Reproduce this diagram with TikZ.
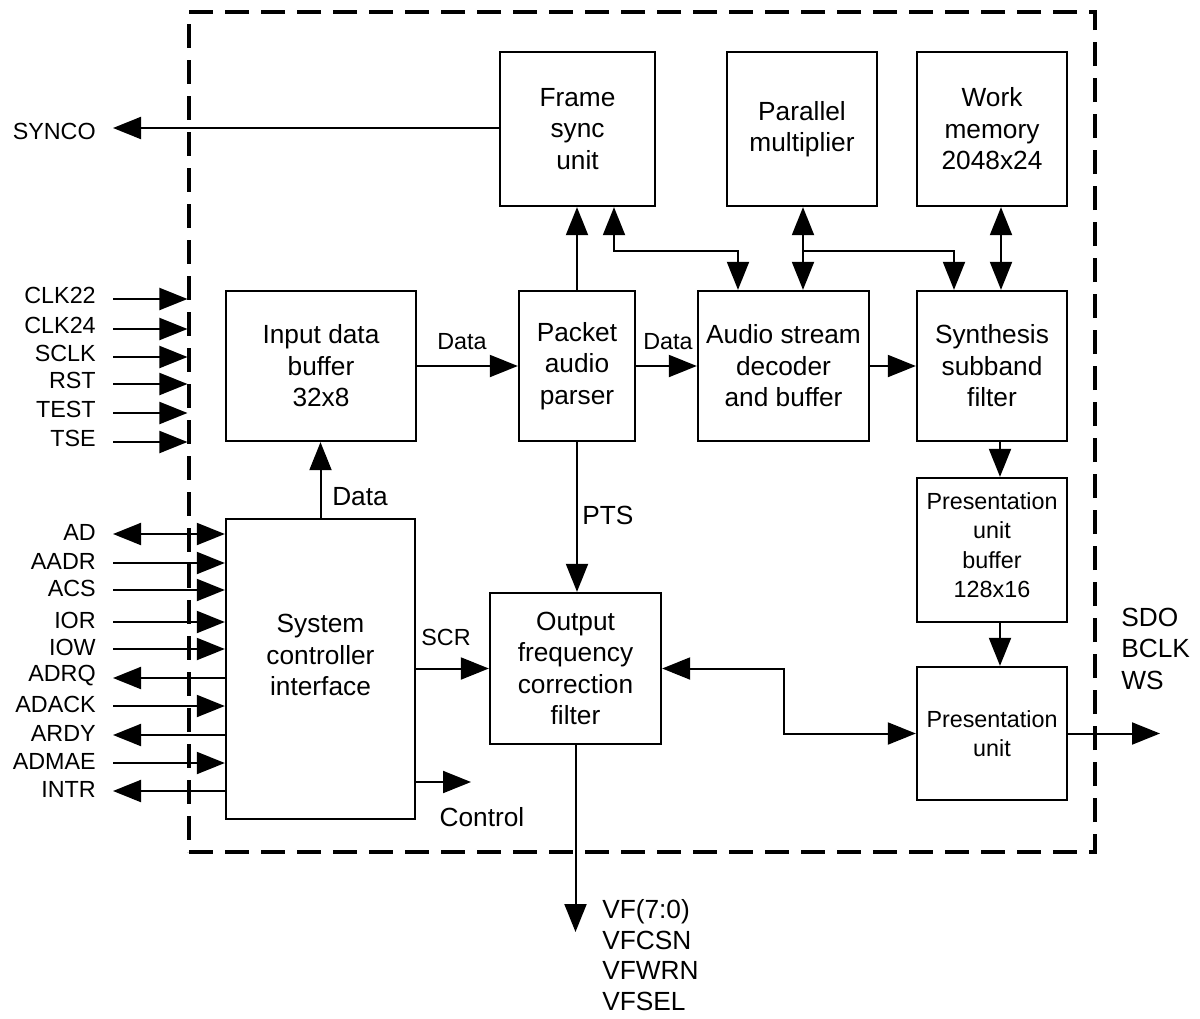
\documentclass[tikz,border=0pt]{standalone}
\usepackage{fontspec}
\setmainfont{Liberation Sans}
\usetikzlibrary{arrows.meta}
\begin{document}
\begin{tikzpicture}[x=0.75pt,y=-0.75pt,
  big/.style={font=\fontsize{19.7pt}{23.6pt}\selectfont},
  small/.style={font=\fontsize{17.5pt}{22pt}\selectfont},
  blk/.style={draw, line width=1.75pt, align=center, inner sep=0pt, big},
  wire/.style={line width=1.5pt},
  tip/.style={wire, -{Triangle[length=21pt,width=16.5pt]}},
  both/.style={wire, {Triangle[length=21pt,width=16.5pt]}-{Triangle[length=21pt,width=16.5pt]}},
  rtip/.style={wire, {Triangle[length=21pt,width=16.5pt]}-},
  lbl/.style={inner sep=0pt, small},
  blbl/.style={inner sep=0pt, big},
]
\useasboundingbox (0,0) rectangle (1200,1018);

% chip outline
\node[draw, line width=2.3pt, dash pattern=on 18pt off 9pt, minimum width=679.5pt, minimum height=630pt, inner sep=0pt] (chip) at (642,432) {};

% blocks
\node[blk, minimum width=116.25pt, minimum height=115.5pt] (fsu) at (577.5,129) {Frame\\sync\\unit};
\node[blk, minimum width=112.5pt, minimum height=115.5pt] (pm) at (802,129) {Parallel\\multiplier};
\node[blk, minimum width=112.5pt, minimum height=115.5pt] (wm) at (992,129) {Work\\memory\\2048x24};
\node[blk, minimum width=142.5pt, minimum height=112.5pt] (idb) at (321,366) {Input data\\buffer\\32x8};
\node[blk, minimum width=87pt, minimum height=112.5pt] (pap) at (577,366) {Packet\\audio\\parser};
\node[blk, minimum width=128.25pt, minimum height=112.5pt] (asd) at (783.5,366) {Audio stream\\decoder\\and buffer};
\node[blk, minimum width=112.5pt, minimum height=112.5pt] (ssf) at (992,366) {Synthesis\\subband\\filter};
\node[blk, minimum width=141.75pt, minimum height=225pt] (sci) at (320.5,669) {};
\node[blbl, align=center] (scit) at (320.5,655) {System\\controller\\interface};
\node[blk, minimum width=128.25pt, minimum height=113.25pt] (ofcf) at (575.5,668.5) {Output\\frequency\\correction\\filter};
\node[blk, minimum width=112.5pt, minimum height=108pt] (pub) at (992,550) {};
\node[lbl, align=center] (pubt) at (992,545) {Presentation\\unit\\buffer\\128x16};
\node[blk, small, minimum width=112.5pt, minimum height=99.75pt] (pu) at (992,733.5) {Presentation\\unit};

% left pins (to chip boundary)
\foreach \n/\y in {CLK22/299, CLK24/329, SCLK/357, RST/384, TEST/413, TSE/442} {
  \node[lbl, anchor=east] (l\n) at (96,\y-4) {\n};
  \coordinate (p\n) at (113,\y);
  \draw[tip] (p\n) -- (p\n -| chip.west);
}
% left pins (to system controller interface)
\foreach \n/\y/\s in {AD/534/both, AADR/563/tip, ACS/590/tip, IOR/622/tip, IOW/649/tip, ADRQ/678/rtip, ADACK/706/tip, ARDY/735/rtip, ADMAE/763/tip, INTR/791/rtip} {
  \node[lbl, anchor=east] (l\n) at (96,\y-2) {\n};
  \coordinate (p\n) at (113,\y);
  \draw[\s] (p\n) -- (p\n -| sci.west);
}

% SYNCO
\coordinate (psynco) at (113,128);
\node[lbl, anchor=east] (lsynco) at (96,131) {SYNCO};
\draw[tip] (fsu.west |- psynco) -- (psynco);

% top connections
\coordinate (ja) at (614,251);
\coordinate (jb) at (738,251);
\coordinate (jc) at (803,251);
\coordinate (jd) at (954,251);
\coordinate (je) at (1001,251);
\draw[tip] (pap.north) -- (pap.north |- fsu.south);
\draw[both] (fsu.south -| ja) -- (ja) -- (jb) -- (asd.north -| jb);
\draw[both] (pm.south -| jc) -- (asd.north -| jc);
\draw[tip] (jc) -- (jd) -- (ssf.north -| jd);
\draw[both] (wm.south -| je) -- (ssf.north -| je);

% data path
\draw[tip] (idb.east) -- (pap.west);
\node[lbl] (ld1) at (462,342) {Data};
\draw[tip] (pap.east) -- (asd.west);
\node[lbl] (ld2) at (668,342) {Data};
\draw[tip] (asd.east) -- (ssf.west);

% PTS
\draw[tip] (pap.south) -- (pap.south |- ofcf.north);
\node[blbl, anchor=west] (lpts) at (582,515) {PTS};

% system controller outputs
\draw[tip] (sci.north) -- (sci.north |- idb.south);
\node[blbl] (ld3) at (360,497) {Data};
\draw[tip] (sci.east |- ofcf.west) -- (ofcf.west);
\node[lbl] (lscr) at (446,637) {SCR};
\coordinate (ctl) at (471,782);
\draw[tip] (sci.east |- ctl) -- (ctl);
\node[blbl] (lctl) at (482,817) {Control};

% VF outputs
\coordinate (vf) at (575.5,932);
\draw[tip] (ofcf.south) -- (vf);
\node[blbl, align=left, anchor=west, font=\fontsize{19.7pt}{23pt}\selectfont] (lvf) at (602,955) {VF(7:0)\\VFCSN\\VFWRN\\VFSEL};

% OFCF <-> presentation unit
\coordinate (jf) at (784,0);
\draw[both] (ofcf.east) -- (jf |- ofcf.east) -- (jf |- pu.west) -- (pu.west);

% right column
\coordinate (jg) at (1000,0);
\draw[tip] (ssf.south -| jg) -- (pub.north -| jg);
\draw[tip] (pub.south -| jg) -- (pu.north -| jg);
\coordinate (pout) at (1160,733.5);
\draw[tip] (pu.east) -- (pout);
\node[blbl, align=left, anchor=west] (lsdo) at (1121,648.5) {SDO\\BCLK\\WS};
\end{tikzpicture}
\end{document}
